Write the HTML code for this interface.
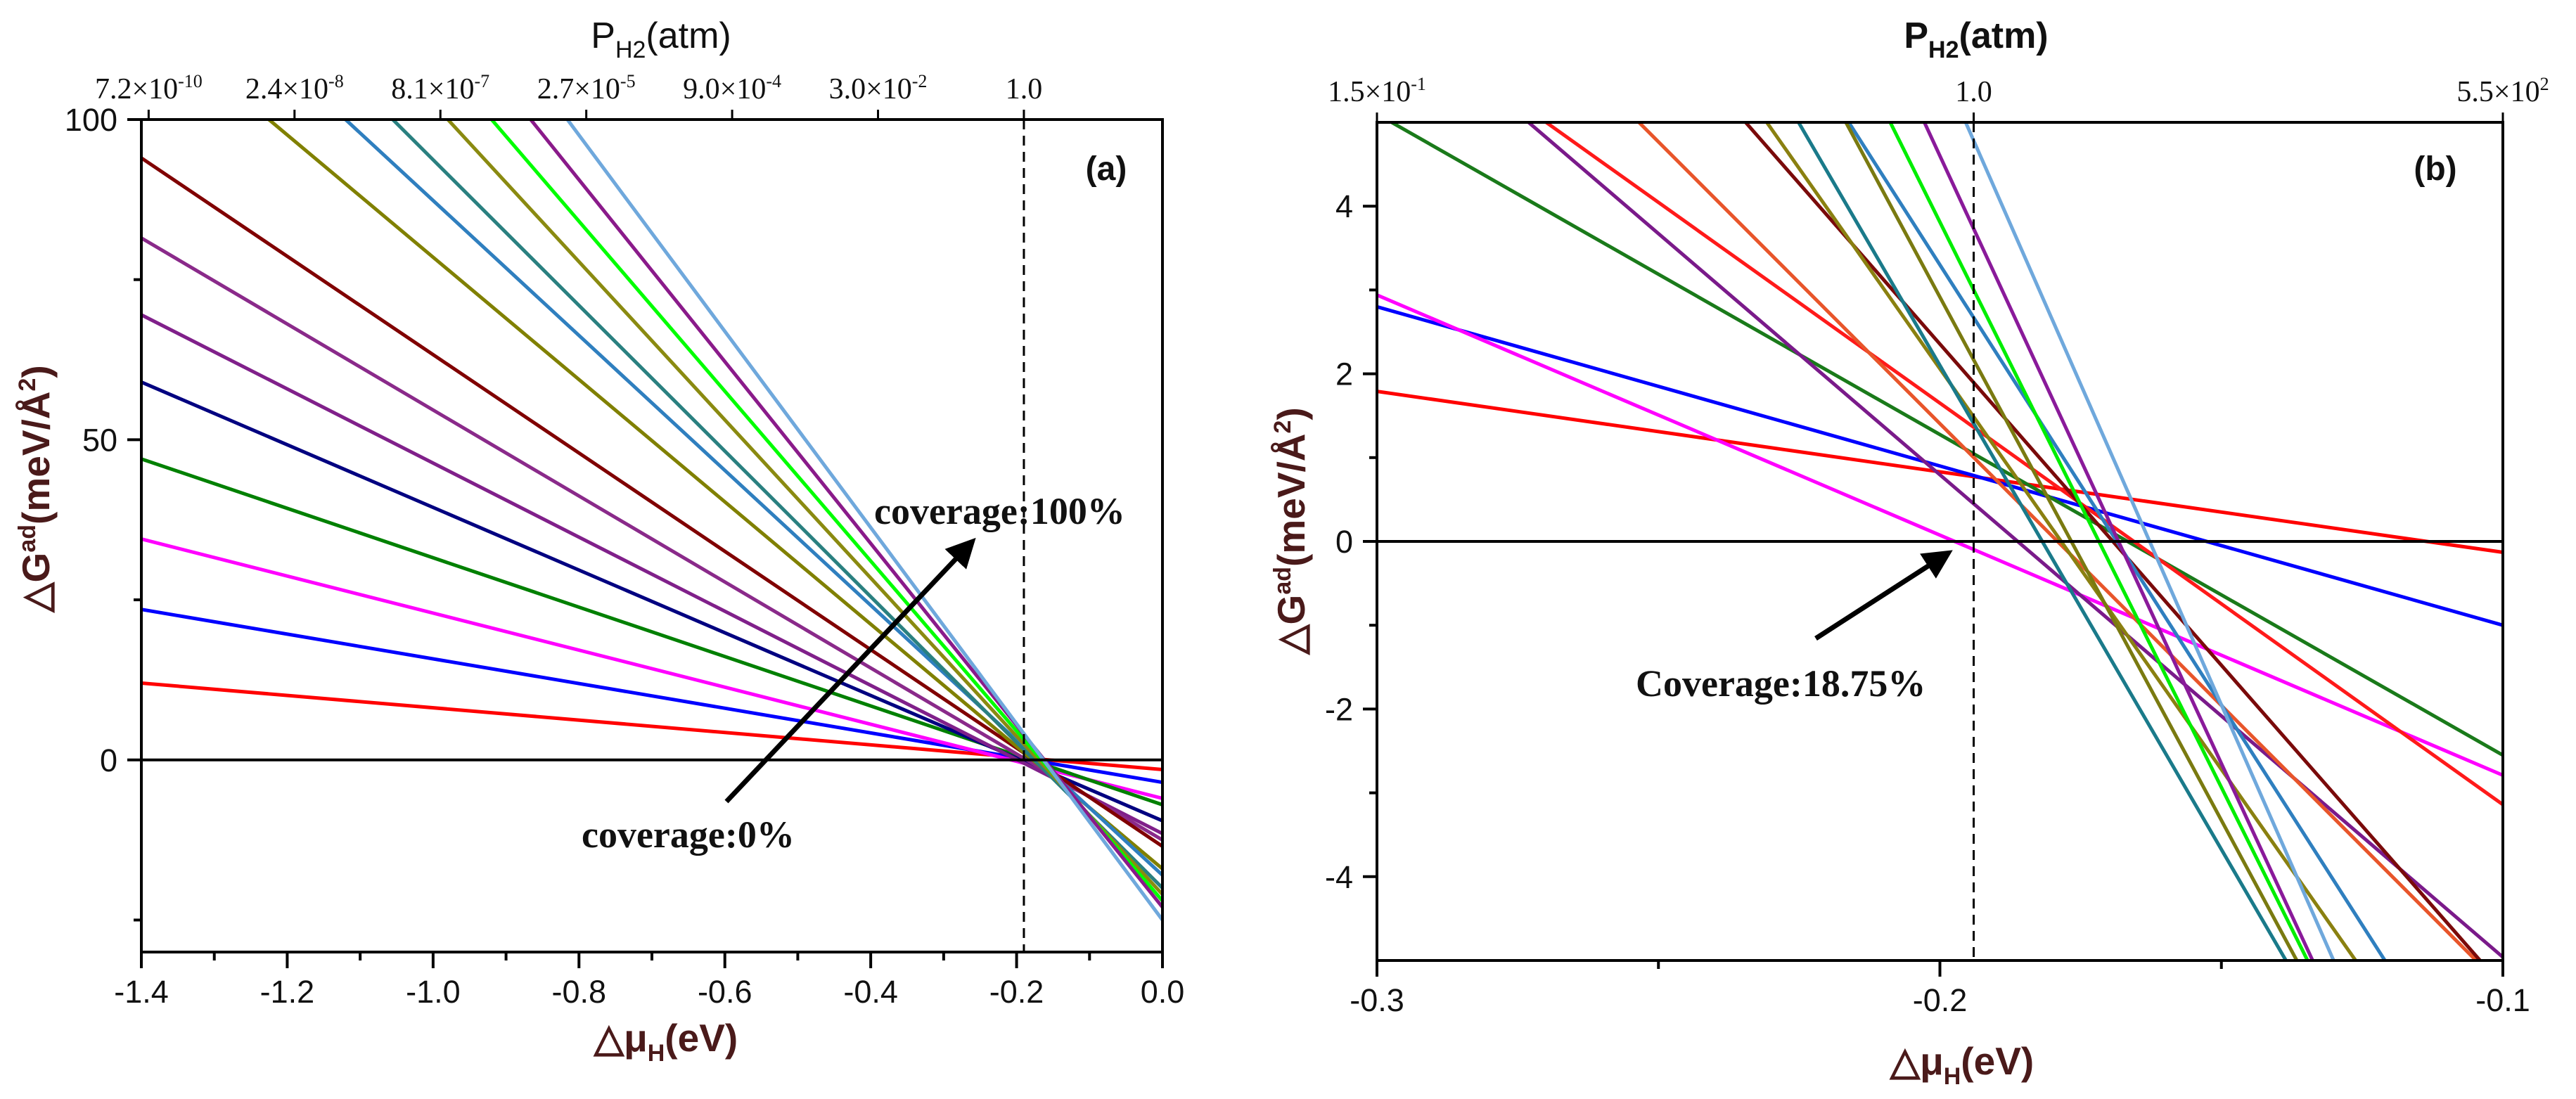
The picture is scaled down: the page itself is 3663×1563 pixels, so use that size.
<!DOCTYPE html>
<html><head><meta charset="utf-8"><style>
html,body{margin:0;padding:0;background:#fff;width:3663px;height:1563px;overflow:hidden;position:relative;}
svg{display:block;}
.sans{font-family:"Liberation Sans",Arial,sans-serif;}
.serif{font-family:"Liberation Serif","Times New Roman",serif;}
</style></head><body>
<svg id="fig" style="position:absolute;left:0;top:0" width="3663" height="1563" viewBox="0 0 3663 1563" xmlns="http://www.w3.org/2000/svg">
<defs>
<clipPath id="clipA"><rect x="201" y="170" width="1452" height="1185"/></clipPath>
<clipPath id="clipB"><rect x="1958" y="174" width="1601" height="1192"/></clipPath>
<marker id="arr" markerWidth="6" markerHeight="6" refX="4" refY="3" orient="auto" markerUnits="strokeWidth"><path d="M0,0 L6,3 L0,6 z" fill="#000"/></marker>
</defs>
<g id="panelA"></g>
<g id="panelB"></g>
<g>
<text class="sans" x="940" y="68" font-size="52" text-anchor="middle" fill="#111">P<tspan font-size="34" dy="14">H2</tspan><tspan dy="-14">(atm)</tspan></text>
<text class="sans" x="947" y="1495" font-size="55" font-weight="bold" text-anchor="middle" fill="#4a1a1a">△μ<tspan font-size="34" dy="14">H</tspan><tspan dy="-14">(eV)</tspan></text>
<text class="sans" transform="translate(70,695) rotate(-90)" font-size="55" font-weight="bold" text-anchor="middle" fill="#4a1a1a">△G<tspan font-size="34" dy="-20">ad</tspan><tspan dy="20">(meV/Å</tspan><tspan font-size="34" dy="-20">2</tspan><tspan dy="20">)</tspan></text>
<text class="sans" x="1573" y="256" font-size="48" font-weight="bold" text-anchor="middle" fill="#111">(a)</text>
<text class="serif" x="1243" y="745" font-size="54" font-weight="bold" fill="#111">coverage:100%</text>
<text class="serif" x="827" y="1205" font-size="54" font-weight="bold" fill="#111">coverage:0%</text>
<line x1="1033" y1="1140" x2="1378" y2="775" stroke="#000" stroke-width="7" marker-end="url(#arr)"/>
<text class="sans" x="2810" y="68" font-size="52" font-weight="bold" text-anchor="middle" fill="#111">P<tspan font-size="34" dy="14">H2</tspan><tspan dy="-14">(atm)</tspan></text>
<text class="sans" x="2790" y="1528" font-size="55" font-weight="bold" text-anchor="middle" fill="#4a1a1a">△μ<tspan font-size="34" dy="14">H</tspan><tspan dy="-14">(eV)</tspan></text>
<text class="sans" transform="translate(1855,755) rotate(-90)" font-size="55" font-weight="bold" text-anchor="middle" fill="#4a1a1a">△G<tspan font-size="34" dy="-20">ad</tspan><tspan dy="20">(meV/Å</tspan><tspan font-size="34" dy="-20">2</tspan><tspan dy="20">)</tspan></text>
<text class="sans" x="3463" y="256" font-size="48" font-weight="bold" text-anchor="middle" fill="#111">(b)</text>
<text class="serif" x="2326" y="990" font-size="54" font-weight="bold" fill="#111">Coverage:18.75%</text>
<line x1="2582" y1="908" x2="2765" y2="790" stroke="#000" stroke-width="7" marker-end="url(#arr)"/>
</g>
</svg>
<script>
// ---- Panel (a) data ----
const aColors = ["#ff0000","#0000ff","#ff00ff","#008000","#000080","#80208a","#8a2a8a","#800000","#808000","#2f7fbf","#2a8080","#8a8a10","#00ff00","#8a1a8a","#6fa8dc"];
const aStart = [12, 23.5, 34.5, 47, 59, 69.5, 81.5, 94, 116.7, 129.5, 139.2, 151.9, 163.7, 175.8, 189.5]; // at -1.4 eV
const aEnd = [-1.5, -3.5, -6, -7, -9.5, -11.5, -12.5, -13.5, -17, -18, -20, -21, -22, -23, -25]; // at 0 eV
const aXTicks = [-1.4, -1.2, -1.0, -0.8, -0.6, -0.4, -0.2, 0.0];
const aXTickLabels = ["-1.4","-1.2","-1.0","-0.8","-0.6","-0.4","-0.2","0.0"];
const aYTicks = [0, 50, 100];
const aYTickLabels = ["0","50","100"];
const aTopTicks = [-1.39, -1.19, -0.99, -0.79, -0.59, -0.39, -0.19];
const aTopMant = ["7.2","2.4","8.1","2.7","9.0","3.0","1.0"];
const aTopExp = ["-10","-8","-7","-5","-4","-2",""];
// ---- Panel (b) data ----
const bColors = ["#ff0000","#0000ff","#ff00ff","#1a7a1a","#ff1a1a","#7a1a8a","#e8552a","#7a0a0a","#8a8010","#1a7a8a","#2f7fbf","#7a7a10","#00ee00","#8a1a9a","#6fa8dc"];
const bStart = [1.79, 2.80, 2.94, 5.1, 6.44, 6.55, 8.13, 10.02, 11.62, 13.65, 13.8, 15.4, 17.3, 19.1, 21.0]; // at -0.3 eV
const bEnd = [-0.13, -1.0, -2.79, -2.55, -3.14, -4.96, -5.32, -5.31, -7.5, -9.45, -7.2, -9.57, -9.68, -9.9, -9.6]; // at -0.1 eV
const bXTicks = [-0.3, -0.2, -0.1];
const bXTickLabels = ["-0.3","-0.2","-0.1"];
const bYTicks = [-4, -2, 0, 2, 4];
const bYTickLabels = ["-4","-2","0","2","4"];
const bTopTicks = [-0.3, -0.194, -0.1];
const bTopMant = ["1.5","1.0","5.5"];
const bTopExp = ["-1","","2"];

const NS = "http://www.w3.org/2000/svg";
function mk(tag, attrs, parent, txt){
  const e = document.createElementNS(NS, tag);
  for (const k in attrs) e.setAttribute(k, attrs[k]);
  if (txt !== undefined) e.textContent = txt;
  parent.appendChild(e);
  return e;
}

function panel(g, cfg){
  const sx = v => cfg.L + (v - cfg.x0) / (cfg.x1 - cfg.x0) * (cfg.R - cfg.L);
  const sy = v => cfg.B - (v - cfg.y0) / (cfg.y1 - cfg.y0) * (cfg.B - cfg.T);
  const lg = mk("g", {"clip-path": "url(#" + cfg.clip + ")"}, g);
  for (let i = 0; i < cfg.start.length; i++) {
    const l = mk("line", {x1: sx(cfg.x0), y1: sy(cfg.start[i]), x2: sx(cfg.x1), y2: sy(cfg.end[i]), stroke: cfg.colors[i], "stroke-width": 5}, lg);
    
    
  }
  const z = mk("line", {x1: cfg.L, x2: cfg.R, y1: sy(0), y2: sy(0), stroke: "#000", "stroke-width": 4}, g);
  
  
  const d = mk("line", {x1: sx(cfg.dash), x2: sx(cfg.dash), y1: cfg.T, y2: cfg.B, stroke: "#000", "stroke-width": 3, "stroke-dasharray": "14,9"}, g);
  
  
  const f = mk("rect", {x: cfg.L, y: cfg.T, width: cfg.R - cfg.L, height: cfg.B - cfg.T, fill: "none", stroke: "#000", "stroke-width": 4}, g);
  
  
  for (let i = 0; i < cfg.xt.length; i++) {
    const x = sx(cfg.xt[i]);
    const t = mk("line", {x1: x, x2: x, y1: cfg.B, y2: cfg.B + 23, stroke: "#000", "stroke-width": 4}, g);
    
    
    const lb = mk("text", {x: x, y: cfg.B + 72, "font-size": 45, "text-anchor": "middle", fill: "#111", "class": "sans"}, g, cfg.xtl[i]);
    
    
    if (i < cfg.xt.length - 1) {
      const xm = sx((cfg.xt[i] + cfg.xt[i + 1]) / 2);
      const m = mk("line", {x1: xm, x2: xm, y1: cfg.B, y2: cfg.B + 12, stroke: "#000", "stroke-width": 4}, g);
      
      
    }
  }
  for (let i = 0; i < cfg.yt.length; i++) {
    const y = sy(cfg.yt[i]);
    const t = mk("line", {x1: cfg.L - 20, x2: cfg.L, y1: y, y2: y, stroke: "#000", "stroke-width": 4}, g);
    
    
    const lb = mk("text", {x: cfg.L - 34, y: y + 16, "font-size": 45, "text-anchor": "end", fill: "#111", "class": "sans"}, g, cfg.ytl[i]);
    
    
  }
  for (const v of cfg.yminor) {
    const y = sy(v);
    const m = mk("line", {x1: cfg.L - 11, x2: cfg.L, y1: y, y2: y, stroke: "#000", "stroke-width": 4}, g);
    
    
  }
  for (let i = 0; i < cfg.tt.length; i++) {
    const x = sx(cfg.tt[i]);
    const t = mk("line", {x1: x, x2: x, y1: cfg.T - 14, y2: cfg.T, stroke: "#000", "stroke-width": 3}, g);
    
    
    const lb = mk("text", {x: x, y: cfg.T - 30, "font-size": 42, "text-anchor": "middle", fill: "#111", "class": "serif"}, g);
    
    
    const e = cfg.texp[i];
    lb.textContent = e ? cfg.tmant[i] + "×10" : cfg.tmant[i];
    if (e) { mk("tspan", {"font-size": 26, dy: -16}, lb, e); }
  }
}

const A = document.getElementById("panelA");
panel(A, {L: 201, R: 1653, T: 170, B: 1354, x0: -1.4, x1: 0, y0: -30, y1: 100, clip: "clipA",
  start: aStart, end: aEnd, colors: aColors, dash: -0.19,
  xt: aXTicks, xtl: aXTickLabels, yt: aYTicks, ytl: aYTickLabels, yminor: [-25, 25, 75],
  tt: aTopTicks, tmant: aTopMant, texp: aTopExp});
const B = document.getElementById("panelB");
panel(B, {L: 1958, R: 3559, T: 174, B: 1366, x0: -0.3, x1: -0.1, y0: -5, y1: 5, clip: "clipB",
  start: bStart, end: bEnd, colors: bColors, dash: -0.194,
  xt: bXTicks, xtl: bXTickLabels, yt: bYTicks, ytl: bYTickLabels, yminor: [-3, -1, 1, 3],
  tt: bTopTicks, tmant: bTopMant, texp: bTopExp});
</script>
</body></html>
